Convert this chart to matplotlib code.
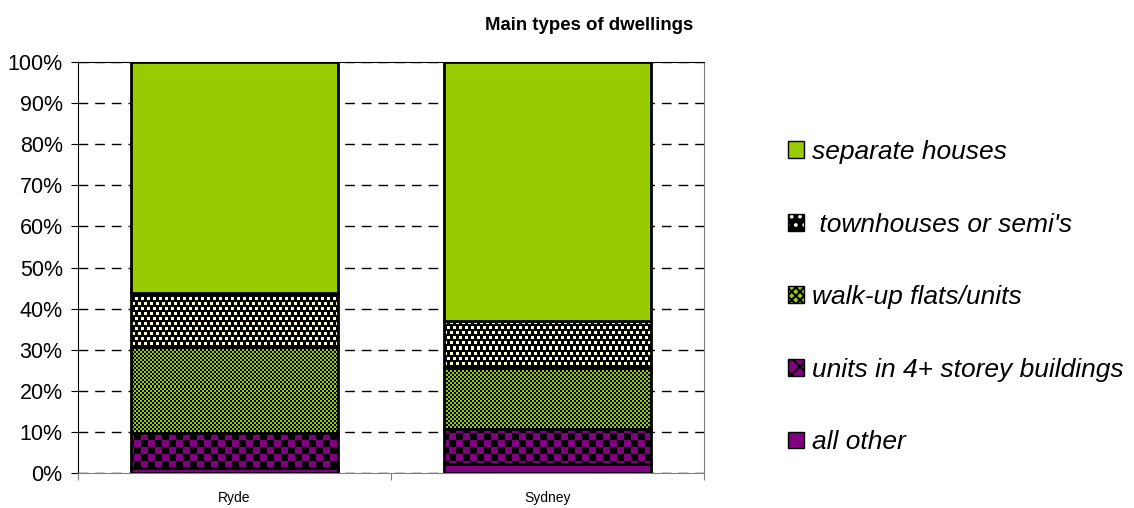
import numpy as np
import matplotlib
matplotlib.use('Agg')
import matplotlib.pyplot as plt
from matplotlib.patches import Patch
from matplotlib.legend_handler import HandlerTuple

plt.rcParams['font.family'] = ['Liberation Sans', 'DejaVu Sans']
plt.rcParams['hatch.linewidth'] = 1.5

# data (percent of dwellings)
places = ['Ryde', 'Sydney']
all_other = [1.2, 2.2]
units_4plus = [8.5, 8.5]
walk_up = [21.0, 14.8]
townhouses = [13.1, 11.5]
separate = [56.2, 63.0]

series_labels = ['all other', 'units in 4+ storey buildings', 'walk-up flats/units',
                 ' townhouses or semi\'s', 'separate houses']

GREEN = '#99CC00'
PURPLE = '#800080'
CREAM = '#FFFFCC'


def rgb(c):
    return np.array(matplotlib.colors.to_rgb(c))


def checker(h, w, cell, c1, c2):
    i, j = np.mgrid[0:h, 0:w]
    mask = ((i // cell + j // cell) % 2).astype(bool)
    img = np.empty((h, w, 3))
    img[:] = rgb(c1)
    img[mask] = rgb(c2)
    return img


def dots(h, w, c_bg, c_dot):
    i, j = np.mgrid[0:h, 0:w]
    row = i // 5
    mask = (i % 5 < 3) & (((j + 3 * (row % 2)) % 6) < 3)
    img = np.empty((h, w, 3))
    img[:] = rgb(c_bg)
    img[mask] = rgb(c_dot)
    return img


fig = plt.figure(figsize=(11.34, 5.08), dpi=100)
ax = fig.add_axes([78 / 1134, 1 - 473 / 508, 626 / 1134, 411 / 508])

x = np.arange(len(places))
width = 0.66
H, W = 411, 626
textures = [
    None,
    checker(H, W, 7, PURPLE, 'black'),
    checker(H, W, 2, GREEN, 'black'),
    dots(H, W, 'black', CREAM),
    None,
]
solid = [PURPLE, None, None, None, GREEN]

bottom = np.zeros(len(places))
for vals, tex, col in zip([all_other, units_4plus, walk_up, townhouses, separate],
                          textures, solid):
    vals = np.array(vals)
    bars = ax.bar(x, vals, width, bottom=bottom,
                  color=col if col else 'none', edgecolor='black',
                  linewidth=2, zorder=3)
    if tex is not None:
        for b in bars:
            im = ax.imshow(tex, extent=(-0.5, 1.5, 0, 100), aspect='auto',
                           interpolation='nearest', zorder=2.5)
            im.set_clip_path(b)
    bottom += vals

ax.set_xlim(-0.5, 1.5)
ax.set_ylim(0, 100)

ax.set_yticks(np.arange(0, 101, 10))
ax.set_yticklabels([f'{v}%' for v in range(0, 101, 10)], fontsize=15.5)
ax.tick_params(axis='y', length=5, pad=6, direction='out')

ax.set_xticks([-0.5, 0.5, 1.5])
ax.set_xticklabels([])
ax.set_xticks(x, minor=True)
ax.set_xticklabels(places, minor=True, fontsize=10)
ax.tick_params(axis='x', which='major', length=5, direction='out', color='#808080')
ax.tick_params(axis='x', which='minor', length=0, pad=13)

ax.yaxis.grid(True, linestyle=(0, (7, 5)), color='black', linewidth=1)
ax.set_axisbelow(True)
for side in ['left', 'top']:
    ax.spines[side].set_color('black')
for side in ['right', 'bottom']:
    ax.spines[side].set_color('#808080')

fig.text(589 / 1134, 1 - 25 / 508, 'Main types of dwellings', ha='center',
         va='center', fontsize=13.4, fontweight='bold')

# legend swatches, bottom series first
border = dict(facecolor='none', edgecolor='black', linewidth=1)
handles = [
    Patch(facecolor=PURPLE, edgecolor='black', linewidth=1),
    (Patch(facecolor=PURPLE, edgecolor='black', hatch='xx', linewidth=0), Patch(**border)),
    (Patch(facecolor=GREEN, edgecolor='black', hatch='xxxx', linewidth=0), Patch(**border)),
    (Patch(facecolor='black', edgecolor=CREAM, hatch='..', linewidth=0), Patch(**border)),
    Patch(facecolor=GREEN, edgecolor='black', linewidth=1),
]
handles = handles[::-1]
labels = series_labels[::-1]
leg = fig.legend(handles, labels, loc='upper left',
                 bbox_to_anchor=(788 / 1134, 1 - 140 / 508), frameon=False,
                 prop={'size': 19, 'style': 'italic'}, handlelength=0.6,
                 handleheight=0.6, handletextpad=0.3, labelspacing=1.84,
                 borderpad=0, borderaxespad=0,
                 handler_map={tuple: HandlerTuple(ndivide=1, pad=0)})

fig.savefig('out.png', dpi=100)
